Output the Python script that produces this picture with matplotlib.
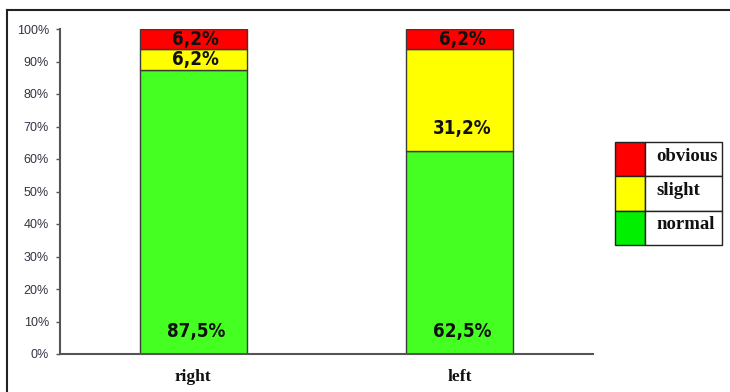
import numpy as np
import matplotlib
matplotlib.use('Agg')
import matplotlib.pyplot as plt
from matplotlib.patches import Rectangle
from matplotlib.lines import Line2D

# data
categories = ['right', 'left']
series_names = ['normal', 'slight', 'obvious']
normal = [87.5, 62.5]
slight = [6.25, 31.25]
obvious = [6.25, 6.25]
value_labels = {
    'normal': ['87,5%', '62,5%'],
    'slight': ['6,2%', '31,2%'],
    'obvious': ['6,2%', '6,2%'],
}
yticks = list(range(0, 101, 10))

bar_colors = {'normal': '#46ff22', 'slight': '#ffff00', 'obvious': '#ff0000'}
legend_colors = {'normal': '#00f000', 'slight': '#ffff00', 'obvious': '#ff0000'}

W, H = 730, 392
fig = plt.figure(figsize=(W / 100, H / 100), dpi=100)
fig.patch.set_facecolor('white')

ax = fig.add_axes([60 / W, 1 - 354 / H, (593 - 60) / W, (354 - 29) / H])

x = np.arange(len(categories))
bar_width = 0.4
bottom = np.zeros(len(categories))
series = {'normal': normal, 'slight': slight, 'obvious': obvious}
for name in series_names:
    vals = np.array(series[name])
    ax.bar(x, vals, bottom=bottom, width=bar_width, color=bar_colors[name],
           edgecolor='#3a3a3a', linewidth=1.0, zorder=2)
    for i, v in enumerate(vals):
        # tall segments get the label near the bottom, short ones centred
        if v > 20:
            ty = bottom[i] + 7
        else:
            ty = bottom[i] + v / 2
        ax.text(x[i] + 0.01, ty, value_labels[name][i], ha='center', va='center',
                fontsize=13.5, fontweight='bold', family='DejaVu Sans',
                fontstretch='condensed', color='#111111', zorder=3)
    bottom += vals

ax.set_xlim(-0.5, 1.5)
ax.set_ylim(0, 100)
ax.set_yticks(yticks)
ax.set_yticklabels([f'{t}%' for t in yticks], family='Liberation Sans',
                   fontsize=9, color='#333344')
ax.set_xticks(x)
ax.set_xticklabels(categories, family='Liberation Serif', fontweight='bold',
                   fontsize=12.5, color='#111111')
ax.tick_params(axis='y', direction='out', length=3, width=1, color='#555555', pad=5)
ax.tick_params(axis='x', length=0, pad=11)
for side in ['top', 'right']:
    ax.spines[side].set_visible(False)
for side in ['left', 'bottom']:
    ax.spines[side].set_color('#555555')
    ax.spines[side].set_linewidth(1.5)

# legend drawn as a small table
lx0, lx1, lsw = 615, 722, 645
row_h = 34.3
ly_top = 142
legend_order = ['obvious', 'slight', 'normal']
for j, name in enumerate(legend_order):
    y_top = ly_top + j * row_h
    fig.add_artist(Rectangle((lx0 / W, 1 - (y_top + row_h) / H), (lsw - lx0) / W, row_h / H,
                             transform=fig.transFigure, facecolor=legend_colors[name],
                             edgecolor='#222222', linewidth=1.0))
    fig.add_artist(Rectangle((lsw / W, 1 - (y_top + row_h) / H), (lx1 - lsw) / W, row_h / H,
                             transform=fig.transFigure, facecolor='white',
                             edgecolor='#222222', linewidth=1.0))
    fig.text((lsw + 11) / W, 1 - (y_top + row_h / 2 - 3) / H, name,
             family='Liberation Serif', fontweight='bold', fontsize=13.5,
             va='center', ha='left', color='#111111')

# outer frame lines (top and left)
fig.add_artist(Line2D([7 / W, 1], [1 - 10 / H, 1 - 10 / H], transform=fig.transFigure,
                      color='#222222', linewidth=1.5))
fig.add_artist(Line2D([7 / W, 7 / W], [0, 1 - 10 / H], transform=fig.transFigure,
                      color='#222222', linewidth=1.5))

fig.savefig('out.png', dpi=100)
